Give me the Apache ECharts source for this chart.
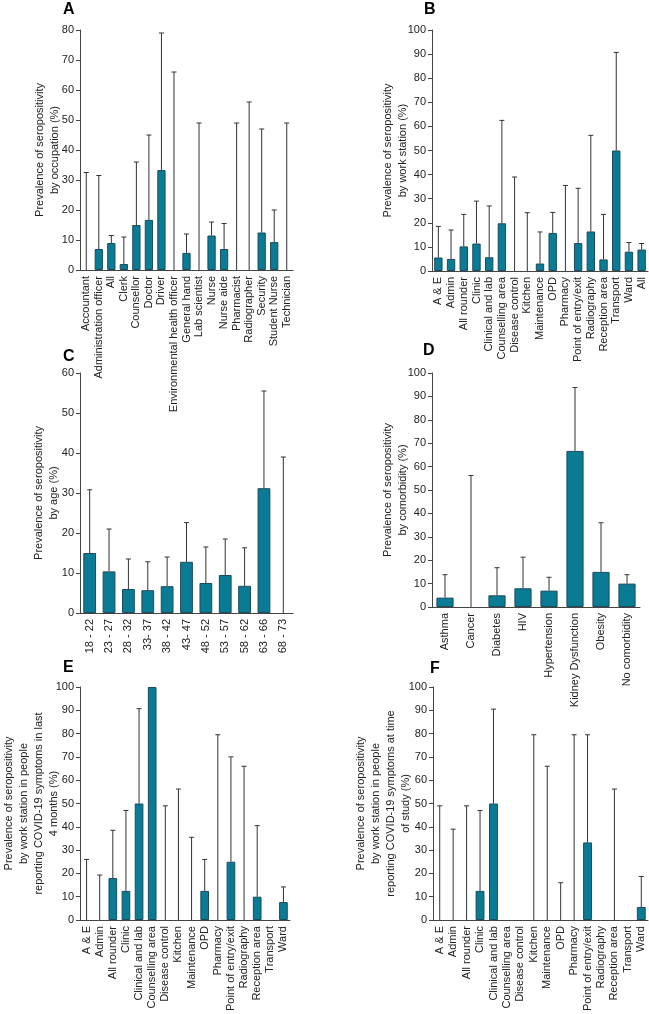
<!DOCTYPE html>
<html><head><meta charset="utf-8">
<script src="https://cdn.jsdelivr.net/npm/echarts@6/dist/echarts.min.js"></script>
<style>html,body{margin:0;padding:0;background:#fff}#c{width:649px;height:1014px}</style>
</head><body><div id="c"></div>
<script>
// ---- Panel A: occupation ----
const catA = ["Accountant","Administration officer","All","Clerk","Counsellor","Doctor","Driver","Environmental health officer","General hand","Lab scientist","Nurse","Nurse aide","Pharmacist","Radiographer","Security","Student Nurse","Technician"];
const valA = [0,7,9,2,15,16.7,33.3,0,5.7,0,11.5,7,0,0,12.5,9.3,0];
const errA = [32.5,31.5,11.5,11,36,45,79,66,12,49,16,15.5,49,56,47,20,49];
// ---- Panel B: work station ----
const catB = ["A & E","Admin","All rounder","Clinic","Clinical and lab","Counselling area","Disease control","Kitchen","Maintenance","OPD","Pharmacy","Point of entry/exit","Radiography","Reception area","Transport","Ward","All"];
const valB = [5.6,5,10.2,11.4,5.7,19.8,0,0,3.1,15.8,0,11.6,16.4,4.8,50,8,8.9];
const errB = [18.5,17,23.5,29,27,62.5,39,24.2,16.2,24.3,35.5,34.3,56.3,23.5,90.7,11.8,11.4];
// ---- Panel C: age ----
const catC = ["18 - 22","23 - 27","28 - 32","33- 37","38 - 42","43- 47","48 - 52","53 - 57","58 - 62","63 - 66","68 - 73"];
const valC = [15,10.4,6,5.7,6.7,12.8,7.5,9.5,6.8,31.2,0];
const errC = [30.8,21,13.5,12.8,14,22.6,16.5,18.5,16.3,55.5,39];
// ---- Panel D: comorbidity ----
const catD = ["Asthma","Cancer","Diabetes","HIV","Hypertension","Kidney Dysfunction","Obesity","No comorbidity"];
const valD = [4,0,5,8,7,66.7,15,10];
const errD = [13.8,56.2,16.8,21.3,12.7,93.8,36,13.8];
// ---- Panel E: symptoms last 4 months ----
const catE = ["A & E","Admin","All rounder","Clinic","Clinical and lab","Counselling area","Disease control","Kitchen","Maintenance","OPD","Pharmacy","Point of entry/exit","Radiography","Reception area","Transport","Ward"];
const valE = [0,0,18,12.5,50,100,0,0,0,12.5,0,25,0,10,0,7.7];
const errE = [26,19.3,38.5,47,90.7,null,49,56.2,35.5,26,79.5,70,66,40.5,null,14.2];
// ---- Panel F: symptoms at time of study ----
const catF = ["A & E","Admin","All rounder","Clinic","Clinical and lab","Counselling area","Disease control","Kitchen","Maintenance","OPD","Pharmacy","Point of entry/exit","Radiography","Reception area","Transport","Ward"];
const valF = [0,0,0,12.5,50,0,0,0,0,0,0,33.3,0,0,0,5.6];
const errF = [49,39,49,47,90.5,null,null,79.5,66,16,79.5,79.5,null,56.2,null,18.7];

const titles = [
  "Prevalence of seropositivity\nby occupation (%)",
  "Prevalence of seropositivity\nby work station (%)",
  "Prevalence of seropositivity\nby age (%)",
  "Prevalence of seropositivity\nby comorbidity (%)",
  "Prevalence of seropositivity\nby work station in people\nreporting COVID-19 symptoms in last\n4 months (%)",
  "Prevalence of seropositivity\nby work station in people\nreporting COVID-19 symptoms at time\nof study (%)"
];
const panels = [
  {cat:catA,val:valA,err:errA,max:80, grid:{left:80,top:30,width:213,height:240}, gap:18},
  {cat:catB,val:valB,err:errB,max:100,grid:{left:432,top:30,width:216,height:241}, gap:22},
  {cat:catC,val:valC,err:errC,max:60, grid:{left:80,top:373,width:213,height:240}, gap:19},
  {cat:catD,val:valD,err:errD,max:100,grid:{left:432,top:373,width:208,height:234}, gap:22},
  {cat:catE,val:valE,err:errE,max:100,grid:{left:79,top:687,width:211,height:240}, gap:19},
  {cat:catF,val:valF,err:errF,max:100,grid:{left:433,top:687,width:215,height:240}, gap:20}
];
const letters = [["A",63,2],["B",424,2],["C",63,349],["D",423,343],["E",63,660],["F",430,661]];

const FONT = "Liberation Sans, Arial, sans-serif";
const axisCol = "#444";
const txtCol = "#222";

function errItem(params, api){
  const i = api.value(0), v = api.value(1), u = api.value(2);
  const p0 = api.coord([i, v]), p1 = api.coord([i, u]);
  const w = 2.5;
  return {type:'group', children:[
    {type:'line', shape:{x1:p0[0],y1:p0[1],x2:p1[0],y2:p1[1]}, style:{stroke:'#333',lineWidth:1}},
    {type:'line', shape:{x1:p1[0]-w,y1:p1[1],x2:p1[0]+w,y2:p1[1]}, style:{stroke:'#333',lineWidth:1}}
  ]};
}

const option = {
  animation:false,
  backgroundColor:'#fff',
  grid: panels.map(p => Object.assign({containLabel:false}, p.grid)),
  xAxis: panels.map((p,k) => ({
    type:'category', gridIndex:k, data:p.cat,
    axisLine:{lineStyle:{color:axisCol,width:1}},
    axisTick:{alignWithLabel:true,length:4,lineStyle:{color:axisCol}},
    axisLabel:{rotate:90,interval:0,fontSize:11,color:txtCol,fontFamily:FONT,margin:6}
  })),
  yAxis: panels.map((p,k) => ({
    type:'value', gridIndex:k, min:0, max:p.max, interval:10,
    name:titles[k], nameLocation:'middle', nameRotate:90, nameGap:p.gap, nameMoveOverlap:false,
    nameTextStyle:{fontSize:11,color:txtCol,fontFamily:FONT,lineHeight:15,align:'center'},
    axisLine:{show:true,lineStyle:{color:axisCol,width:1}},
    axisTick:{show:true,length:4,lineStyle:{color:axisCol}},
    splitLine:{show:false},
    axisLabel:{fontSize:11,color:txtCol,fontFamily:FONT,margin:6}
  })),
  series: panels.flatMap((p,k) => [
    {type:'bar', xAxisIndex:k, yAxisIndex:k, barWidth:'66%',
     data:p.val.map(v => v === 0 ? {value:0, itemStyle:{opacity:0, borderWidth:0}} : v),
     itemStyle:{color:'#0a7b95',borderColor:'#1b4c5c',borderWidth:1}},
    {type:'custom', xAxisIndex:k, yAxisIndex:k, renderItem:errItem, encode:{x:0,y:1}, z:3,
     data:p.val.map((v,i)=>[i,v,p.err[i]]).filter(d=>d[2]!==null)}
  ]),
  graphic: letters.map(l => ({type:'text', left:l[1], top:l[2],
    style:{text:l[0], font:'bold 16px '+FONT, fill:'#000'}}))
};
const chart = echarts.init(document.getElementById('c'), null, {renderer:'canvas'});
chart.setOption(option);
</script>
</body></html>
